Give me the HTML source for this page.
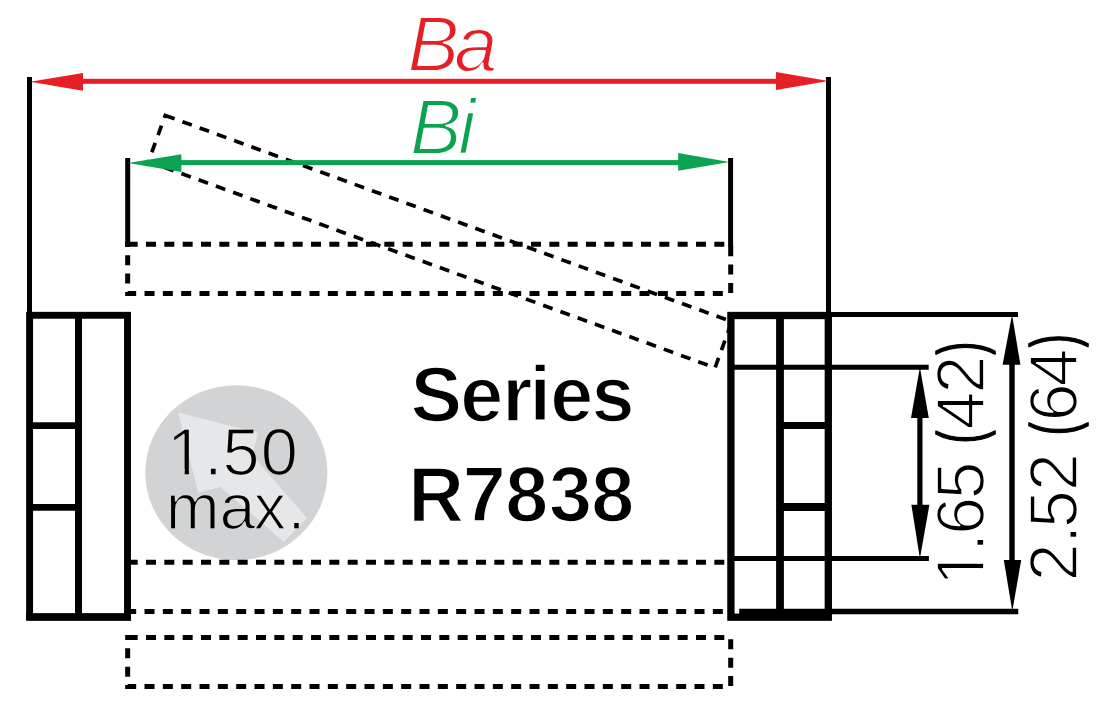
<!DOCTYPE html>
<html lang="en">
<head>
<meta charset="utf-8">
<title>Series R7838</title>
<style>
html,body{margin:0;padding:0;background:#fff;}
body{width:1111px;height:709px;overflow:hidden;}
svg{display:block;}
text{font-family:"Liberation Sans",sans-serif;white-space:pre;}
.thin{paint-order:fill stroke;stroke-linejoin:round;}
</style>
</head>
<body>
<svg width="1111" height="709" viewBox="0 0 1111 709">
<defs>
<clipPath id="cc"><ellipse cx="236.35" cy="472.7" rx="91.1" ry="87.5"/></clipPath>
</defs>
<rect width="1111" height="709" fill="#fff"/>

<!-- gray circle with light arrow -->
<g id="disc">
<ellipse cx="236.35" cy="472.7" rx="91.1" ry="87.5" fill="#d1d3d4"/>
<g clip-path="url(#cc)">
<g transform="translate(178,412.6) rotate(45)">
<path d="M0,0 L71,-42.3 L82.5,-22.6 L166,-16.6 L166,16.6 L82.5,22.6 L71,42.3 Z" fill="#e6e7e8"/>
</g>
</g>
</g>

<!-- dashed horizontal rectangles -->
<g fill="none" stroke="#000" stroke-width="5" stroke-dasharray="10 8.333">
<path d="M127.67,244.3 H730.7 V293.4 H127.67 Z"/>
<path d="M127.67,562.3 H730.7 V611.4 H127.67 Z"/>
<path d="M127.67,637.4 H730.7 V686.5 H127.67 Z"/>
</g>
<!-- rotated dashed rectangle -->
<g transform="translate(165.2,115.4) rotate(20)">
<path d="M0,0 H603 V49.1 H0 Z" fill="none" stroke="#000" stroke-width="3.7" stroke-dasharray="10 8.333"/>
</g>

<!-- vertical extension lines -->
<g stroke="#000" stroke-width="5" fill="none">
<path d="M29.5,77 V316"/>
<path d="M828.5,77 V316"/>
<path d="M127.7,158 V246.8"/>
</g>

<!-- red arrow -->
<g fill="#e61e25" stroke="none">
<rect x="60" y="78.8" width="740" height="5"/>
<path d="M30,81.7 L83,73 L83,90.8 Z"/>
<path d="M828.5,81 L776,72 L776,90 Z"/>
</g>
<!-- green arrow -->
<g fill="#0ca350" stroke="none">
<rect x="160" y="160.1" width="540" height="5"/>
<path d="M128,162.9 L181.4,154.2 L181.4,172 Z"/>
<path d="M729.5,162 L678.2,153 L678.2,170.8 Z"/>
</g>
<path d="M730.6,158 V247" stroke="#000" stroke-width="5" fill="none"/>

<g class="thin" font-size="77.5" font-style="italic" stroke="#fff" stroke-width="1.8">
<text x="407.44 454.35" y="71.00" fill="#e61e25">Ba</text>
<text x="409.94 458.30" y="153.80" fill="#0ca350">Bi</text>
</g>

<!-- left block -->
<g fill="none" stroke="#000">
<rect x="29.6" y="315.3" width="97.9" height="301.7" stroke-width="6.9"/>
<path d="M78.5,315.3 V617" stroke-width="7"/>
<path d="M29.6,425.6 H78.5 M29.6,507.3 H78.5" stroke-width="6.8"/>
<path d="M26.15,617 H130.95" stroke-width="7.6"/>
</g>

<!-- right block -->
<g fill="none" stroke="#000">
<rect x="730.9" y="315.5" width="97.4" height="301.7" stroke-width="7.3"/>
<path d="M780,315.5 V617.2" stroke-width="7.8"/>
<path d="M780,425.4 H828.3" stroke-width="7"/>
<path d="M780,507 H828.3" stroke-width="7.8"/>
<g stroke-width="5">
<path d="M828,314.5 H1018"/>
<path d="M731,367.2 H928.7"/>
<path d="M731,558.6 H928.9"/>
<path d="M739.2,611.5 H1018.3" stroke-width="5.4"/>
<path d="M919.9,400 V520" stroke-width="5.2"/>
<path d="M1012,350 V575" stroke-width="5.4"/>
</g>
</g>
<g fill="#000" stroke="none">
<path d="M919.9,367.2 L911,418 L928.8,418 Z"/>
<path d="M919.9,558.6 L911.4,504.8 L929.4,504.8 Z"/>
<path d="M1012,314.5 L1002.6,364.7 L1020.4,364.7 Z"/>
<path d="M1012.3,611.3 L1003.8,560 L1021.2,560 Z"/>
</g>

<!-- dimension texts -->
<g class="thin" font-size="68" fill="#000" stroke="#fff" stroke-width="1.7">
<text transform="translate(984.15,600.0) rotate(-90)" x="13.94 48.30 65.16 100.81 138.63 156.84 170.61 206.59 245.47" y="0 0 0 0 0 -2.35 0 0 -2.35">1.65 <tspan font-size="63" textLength="12.59" lengthAdjust="spacingAndGlyphs" stroke="#000" stroke-width="1.7">(</tspan>42<tspan font-size="63" textLength="12.59" lengthAdjust="spacingAndGlyphs" stroke="#000" stroke-width="1.7">)</tspan></text>
<text transform="translate(1077.35,600.0) rotate(-90)" x="18.74 56.20 72.11 109.14 146.96 165.04 178.76 213.61 252.97" y="0 0 0 0 0 -2.35 0 0 -2.35">2.52 <tspan font-size="63" textLength="12.59" lengthAdjust="spacingAndGlyphs" stroke="#000" stroke-width="1.7">(</tspan>64<tspan font-size="63" textLength="12.59" lengthAdjust="spacingAndGlyphs" stroke="#000" stroke-width="1.7">)</tspan></text>
</g>
<g transform="translate(984.15,600.0) rotate(-90)" fill="#fff"><rect x="18.02" y="-6.28" width="13.87" height="7.48"/><rect x="36.20" y="-6.28" width="13.10" height="7.48"/></g>

<!-- circle text -->
<mask id="mc" maskUnits="userSpaceOnUse" x="140" y="400" width="190" height="150">
<use href="#tc" fill="#fff" stroke="#000" stroke-width="1.7" stroke-linejoin="round"/>
<g fill="#000"><rect x="171.09" y="468.87" width="13.62" height="7.38"/><rect x="188.90" y="468.87" width="12.87" height="7.38"/></g>
</mask>
<g mask="url(#mc)" fill="#000">
<g id="tc" font-size="66.7">
<text x="167.09 203.93 222.42 260.80" y="475.05">1.50</text>
<text x="165.78 219.41 253.73 287.38" y="528.95" font-size="64.6">max.</text>
</g>
</g>

<!-- centre text -->
<g class="thin" font-size="77.3" font-weight="bold" fill="#000" stroke="#fff" stroke-width="1.7">
<text x="410.62 460.27 502.20 529.45 550.17 591.53" y="420.75">Series</text>
<text x="408.15 462.74 505.37 548.91 591.22" y="520.65">R7838</text>
</g>
</svg>
</body>
</html>
